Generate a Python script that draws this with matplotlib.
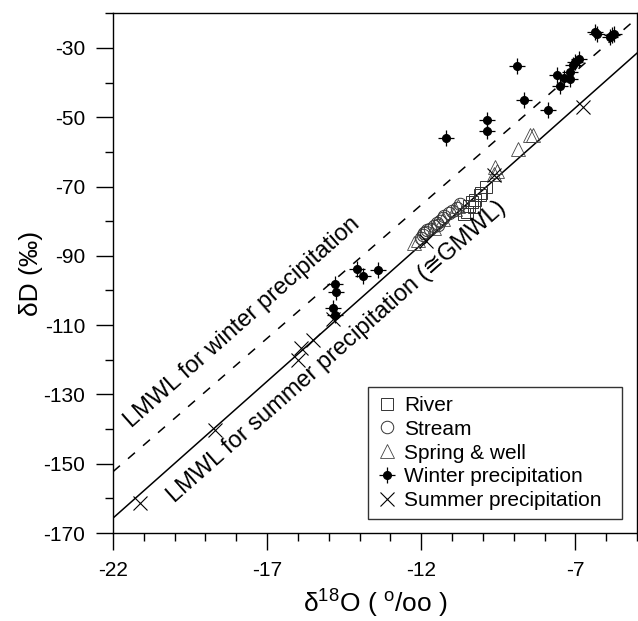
import numpy as np
import matplotlib
matplotlib.use("Agg")
from matplotlib import pyplot as plt
from matplotlib.ticker import MultipleLocator, FixedLocator

plt.rcParams['font.family'] = ['Liberation Sans', 'DejaVu Sans']
plt.rcParams['mathtext.fontset'] = 'custom'
plt.rcParams['mathtext.rm'] = 'Liberation Sans'
plt.rcParams['mathtext.it'] = 'Liberation Sans:italic'
plt.rcParams['axes.unicode_minus'] = False

# meteoric water lines (read at the two ends of the x range)
line_x = [-22, -5]
winter_line = [-152.3, -21.4]
summer_line = [-165.7, -31.5]

# River
river_o = [-10.6, -10.5, -10.45, -10.35, -10.3, -10.25, -10.1, -10.05, -9.9]
river_d = [-78.0, -77.3, -75.5, -74.6, -76.0, -74.0, -72.5, -71.8, -70.1]

# Stream
stream_o = [-12.0, -11.95, -11.9, -11.85, -11.8, -11.7, -11.6, -11.5, -11.45,
            -11.4, -11.3, -11.25, -11.1, -11.0, -10.85, -10.75]
stream_d = [-85.0, -84.0, -83.5, -83.0, -82.5, -82.4, -81.5, -80.5, -81.0,
            -80.0, -79.0, -78.5, -77.6, -77.0, -76.2, -75.0]

# Spring & well
spring_o = [-12.25, -12.1, -11.6, -11.3, -10.9, -10.8, -9.65, -9.6, -9.55,
            -8.87, -8.46, -8.38]
spring_d = [-86.3, -85.3, -82.0, -79.5, -76.5, -75.5, -66.5, -64.3, -65.5,
            -59.2, -55.2, -55.2]

# Winter precipitation
winter_o = [-14.85, -14.8, -14.8, -14.75, -14.09, -13.9, -13.4, -11.19, -9.87,
            -9.87, -8.88, -8.68, -7.88, -7.6, -7.49, -7.38, -7.16, -7.16,
            -7.08, -7.0, -6.87, -6.35, -6.3, -5.86, -5.81, -5.76]
winter_d = [-105.0, -107.0, -98.0, -100.5, -93.7, -95.9, -94.1, -56.0, -50.9,
            -53.9, -35.1, -44.9, -48.0, -37.9, -41.0, -38.8, -36.9, -39.0,
            -35.0, -34.0, -33.1, -25.4, -25.9, -26.8, -26.3, -25.9]

# Summer precipitation
summer_o = [-21.12, -18.69, -16.0, -15.9, -15.5, -14.85, -11.85, -9.65, -6.76]
summer_d = [-161.3, -140.3, -120.0, -116.5, -114.2, -108.3, -85.8, -66.8, -47.0]

fig = plt.figure(figsize=(6.38, 6.21), dpi=100)
ax = fig.add_axes([0.1771, 0.1417, 0.8213, 0.8369])

ax.plot(line_x, winter_line, color='black', lw=1.1, dashes=[6, 7])
ax.plot(line_x, summer_line, color='black', lw=1.1)

h1, = ax.plot(river_o, river_d, 's', ms=9, mfc='none', mec='#333333', mew=0.7,
              linestyle='none')
h2, = ax.plot(stream_o, stream_d, 'o', ms=9, mfc='none', mec='#333333', mew=0.7,
              linestyle='none')
h3, = ax.plot(spring_o, spring_d, '^', ms=10, mfc='none', mec='#444444', mew=0.6,
              linestyle='none')
h4a, = ax.plot(winter_o, winter_d, '+', ms=12, color='black', mew=0.9,
               linestyle='none')
h4b, = ax.plot(winter_o, winter_d, 'o', ms=5.5, color='black', linestyle='none')
h5, = ax.plot(summer_o, summer_d, 'x', ms=10, color='black', mew=0.8,
              linestyle='none')

ax.text(-21.39, -139.8, "LMWL for winter precipitation", fontsize=17,
        rotation=41.5, rotation_mode='anchor', ha='left', va='baseline')
ax.text(-20.0, -161.4, "LMWL for summer precipitation (\u2245GMWL)", fontsize=17,
        rotation=41.5, rotation_mode='anchor', ha='left', va='baseline')

ax.set_xlim(-22, -5)
ax.set_ylim(-170, -20)
ax.xaxis.set_major_locator(FixedLocator([-22, -17, -12, -7]))
ax.xaxis.set_minor_locator(MultipleLocator(1))
ax.yaxis.set_major_locator(FixedLocator(np.arange(-170, -29, 20)))
ax.yaxis.set_minor_locator(MultipleLocator(10))
ax.tick_params(which='major', direction='out', length=12, width=1.0,
               labelsize=15, pad=8)
ax.tick_params(which='minor', direction='out', length=6, width=1.0)
for s in ax.spines.values():
    s.set_linewidth(1.0)

ax.set_xlabel("\u03b4$^{18}$O ( $^{\\rm o}$/oo )", fontsize=19, labelpad=6)
ax.set_ylabel("\u03b4D (\u2030)", fontsize=19, labelpad=0)

leg = ax.legend([h1, h2, h3, (h4a, h4b), h5],
                ["River", "Stream", "Spring & well", "Winter precipitation",
                 "Summer precipitation"],
                loc='lower left', bbox_to_anchor=(0.4866, 0.026, 0.4848, 0.3),
                mode='expand', fontsize=15,
                frameon=True, fancybox=False, edgecolor='black',
                handlelength=0.9, handletextpad=0.4, labelspacing=0.23,
                borderpad=0.45, borderaxespad=0)
leg.get_frame().set_linewidth(1.0)

fig.savefig("out.png", dpi=100)
